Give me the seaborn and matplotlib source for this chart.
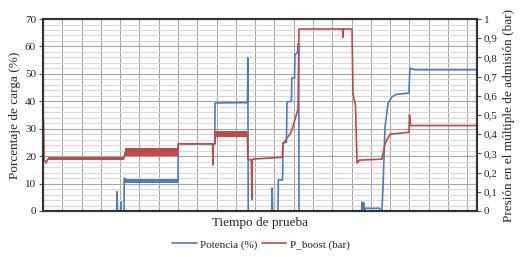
import numpy as np
import pandas as pd
import seaborn as sns
import matplotlib.pyplot as plt
from matplotlib.ticker import MultipleLocator, FuncFormatter

# Potencia (%), left axis - breakpoints (x in grid units)
pot_x = [0, 3.83, 3.84, 3.86, 4.02, 4.04, 4.06, 4.2, 4.21, 4.4, 7.0, 7.01, 8.9, 8.92,
         10.6, 10.62, 10.64, 11.86, 11.88, 11.9, 12.18, 12.2, 12.42, 12.44, 12.62,
         12.65, 12.88, 12.9, 13.04, 13.06, 13.2, 13.22, 13.26, 13.27, 16.52, 16.54,
         16.56, 16.62, 16.64, 16.66, 16.7, 17.45, 17.5, 17.57, 17.63, 17.73, 17.89,
         18.09, 18.3, 18.97, 19.02, 19.3, 22.5]
pot_y = [0, 0, 7, 0, 0, 3.3, 0, 0, 12, 11, 11, 24.5, 24.5, 39.4,
         39.5, 55.8, 0, 0, 8.4, 0, 0, 11.3, 11.3, 24.8, 25,
         39.8, 40, 48.5, 48.5, 57, 58, 61, 61, 0, 0, 3.3,
         0, 0, 3, 0, 1, 1, 0, 0, 9.5, 30.6, 39.4,
         41.6, 42.5, 43, 52, 51.5, 51.5]

# P_boost (bar), right axis
boost_x = [0, 0.03, 0.06, 0.15, 0.25, 2.0, 4.2, 4.25, 7.0, 7.01, 8.79, 8.81, 8.83,
           8.92, 8.93, 9.2, 10.6, 10.62, 10.8, 10.83, 10.85, 12.4, 12.44, 12.8, 12.9,
           13.1, 13.22, 13.27, 15.53, 15.55, 15.57, 16.02, 16.07, 16.2, 16.28, 16.4,
           17.57, 17.63, 17.73, 17.99, 18.97, 19.0, 19.05, 22.5]
boost_y = [0.51, 0.45, 0.27, 0.25, 0.27, 0.275, 0.275, 0.305, 0.305, 0.35, 0.35, 0.24, 0.35,
           0.35, 0.41, 0.40, 0.40, 0.27, 0.265, 0.06, 0.27, 0.28, 0.35, 0.40, 0.42,
           0.49, 0.53, 0.948, 0.948, 0.905, 0.948, 0.948, 0.61, 0.55, 0.25, 0.265,
           0.27, 0.30, 0.35, 0.40, 0.41, 0.50, 0.445, 0.445]

# noisy bands (x start, x end, low, high)
boost_bands = [(4.25, 7.0, 0.285, 0.33), (8.93, 10.6, 0.385, 0.415), (0.25, 4.2, 0.265, 0.283)]
pot_bands = [(4.21, 7.0, 10.2, 11.6)]

BLUE = '#4a7ebb'
RED = '#be4b48'

sns.set_style('white')
plt.rcParams['font.family'] = ['Liberation Serif', 'DejaVu Serif']

fig = plt.figure(figsize=(5.22, 2.57), dpi=100)
ax = fig.add_axes([0.0824, 0.179, 0.8314, 0.747])
ax2 = ax.twinx()

pot = pd.DataFrame({'x': pot_x, 'y': pot_y})
boost = pd.DataFrame({'x': boost_x, 'y': boost_y})
sns.lineplot(data=pot, x='x', y='y', ax=ax, sort=False, estimator=None,
             color=BLUE, lw=1.2, label='Potencia (%)', legend=False)
for x0, x1, lo, hi in pot_bands:
    ax.fill_between([x0, x1], lo, hi, color=BLUE, lw=0)
sns.lineplot(data=boost, x='x', y='y', ax=ax2, sort=False, estimator=None,
             color=RED, lw=1.2, label='P_boost (bar)', legend=False)
for x0, x1, lo, hi in boost_bands:
    ax2.fill_between([x0, x1], lo, hi, color=RED, lw=0)

ax.set_xlim(0, 22.5)
ax.set_ylim(0, 70)
ax2.set_ylim(0, 1)
ax.xaxis.set_major_locator(MultipleLocator(1))
ax.yaxis.set_major_locator(MultipleLocator(10))
ax.yaxis.set_minor_locator(MultipleLocator(2))
ax2.yaxis.set_major_locator(MultipleLocator(0.1))
ax2.yaxis.set_major_formatter(FuncFormatter(
    lambda v, p: '0' if abs(v) < 1e-9 else ('1' if abs(v - 1) < 1e-9 else f'{v:.1f}'.replace('.', ','))))

ax.grid(True, which='major', axis='both', color='#a6a6a6', lw=0.8)
ax.grid(True, which='minor', axis='y', color='#d9d9d9', lw=0.8)
ax.set_axisbelow(True)
ax.tick_params(axis='x', which='both', bottom=False, labelbottom=False)
ax.tick_params(axis='y', which='major', left=True, length=3, width=0.8, labelsize=8, pad=2, color='#555555')
ax.tick_params(axis='y', which='minor', left=False)
ax2.tick_params(axis='y', right=True, length=3, width=0.8, labelsize=8, pad=2, color='#555555')

for a in (ax, ax2):
    for s in a.spines.values():
        s.set_color('#333333')
        s.set_linewidth(1.5)

ax.set_xlabel('Tiempo de prueba', fontsize=9.5, labelpad=4)
ax.set_ylabel('Porcentaje de carga (%)', fontsize=9.5, labelpad=3)
ax2.set_ylabel('Presión en el múltiple de admisión (bar)', fontsize=9.5, labelpad=4)

h1, l1 = ax.get_legend_handles_labels()
h2, l2 = ax2.get_legend_handles_labels()
fig.legend(h1 + h2, l1 + l2, loc='lower center', bbox_to_anchor=(0.5, -0.01), ncol=2,
           frameon=False, fontsize=8, handlelength=2.2, handletextpad=0.3, columnspacing=0.4)

fig.savefig('out.png', dpi=100)
